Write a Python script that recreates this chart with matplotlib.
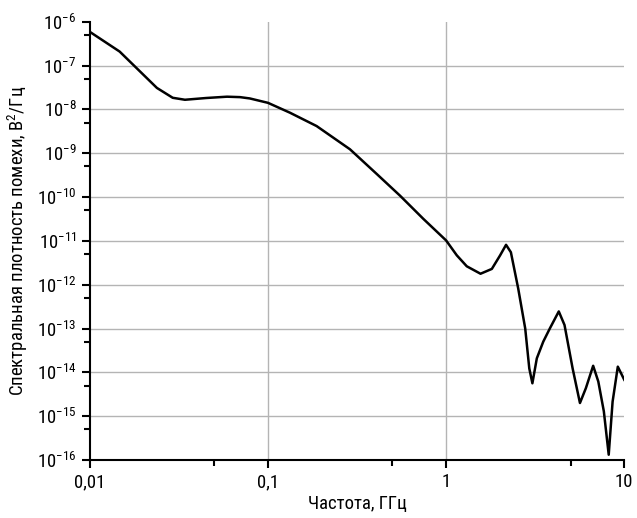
import numpy as np
import matplotlib
matplotlib.use('Agg')
import matplotlib.pyplot as plt
from matplotlib.ticker import FixedLocator, FixedFormatter, NullFormatter

plt.rcParams['font.family'] = ['Roboto Condensed', 'DejaVu Sans']
plt.rcParams['mathtext.default'] = 'regular'

# частота, ГГц и lg спектральной плотности
freq = [0.01, 0.0147, 0.0238, 0.0292, 0.0342, 0.045, 0.0589, 0.0697, 0.0791, 0.1,
        0.1328, 0.1875, 0.2886, 0.4095, 0.5516, 0.746, 1.0, 1.148, 1.306,
        1.56, 1.806, 2.01, 2.17, 2.31, 2.54, 2.78, 2.93, 3.05, 3.23,
        3.51, 3.82, 4.29, 4.62, 5.13, 5.64, 6.09, 6.69, 7.15, 7.68,
        8.18, 8.6, 9.2, 10.0]
log_psd = [-6.23, -6.68, -7.51, -7.735, -7.78, -7.74, -7.71, -7.72, -7.75, -7.85,
           -8.075, -8.38, -8.91, -9.48, -9.97, -10.5, -10.99, -11.33, -11.58,
           -11.75, -11.64, -11.33, -11.09, -11.26, -12.09, -13.0, -13.91, -14.25, -13.68,
           -13.30, -13.0, -12.61, -12.92, -13.91, -14.7, -14.36, -13.85, -14.21, -14.89,
           -15.88, -14.67, -13.87, -14.17]
psd = 10.0 ** np.array(log_psd)

xticks = [0.01, 0.1, 1, 10]
xtick_labels = ['0,01', '0,1', '1', '10']
yticks = [10.0 ** p for p in range(-16, -5)]
ytick_labels = ['$10^{%d}$' % p for p in range(-16, -5)]

fig = plt.figure(figsize=(6.37, 5.18), dpi=100)
ax = fig.add_axes([0.141, 0.112, 0.839, 0.846])
ax.plot(freq, psd, color='black', lw=1.8, solid_joinstyle='round')
ax.set_xscale('log')
ax.set_yscale('log')
ax.set_xlim(0.01, 10)
ax.set_ylim(1e-16, 1e-6)

ax.xaxis.set_major_locator(FixedLocator(xticks))
ax.xaxis.set_major_formatter(FixedFormatter(xtick_labels))
ax.xaxis.set_minor_locator(FixedLocator([0.05, 0.5, 5]))
ax.xaxis.set_minor_formatter(NullFormatter())
ax.yaxis.set_major_locator(FixedLocator(yticks))
ax.yaxis.set_major_formatter(FixedFormatter(ytick_labels))
ax.yaxis.set_minor_locator(FixedLocator([5 * 10.0 ** p for p in range(-16, -6)]))
ax.yaxis.set_minor_formatter(NullFormatter())

ax.grid(True, which='major', color='#b4b4b4', lw=1)
# сетка без линий на краях
for t in ax.xaxis.get_major_ticks()[::3] + ax.yaxis.get_major_ticks()[::10]:
    t.gridline.set_visible(False)
ax.spines['top'].set_visible(False)
ax.spines['right'].set_visible(False)
ax.spines['left'].set_linewidth(1.5)
ax.spines['bottom'].set_linewidth(1.5)
ax.tick_params(which='major', length=6, width=1.5, labelsize=13.5)
ax.tick_params(which='minor', length=4, width=1.5)

ax.set_xlabel('Частота, ГГц', fontsize=13.5, labelpad=3)
ax.set_ylabel('Спектральная плотность помехи, В$^2$/Гц', fontsize=13.5, labelpad=5)

fig.savefig('out.png', dpi=100)
